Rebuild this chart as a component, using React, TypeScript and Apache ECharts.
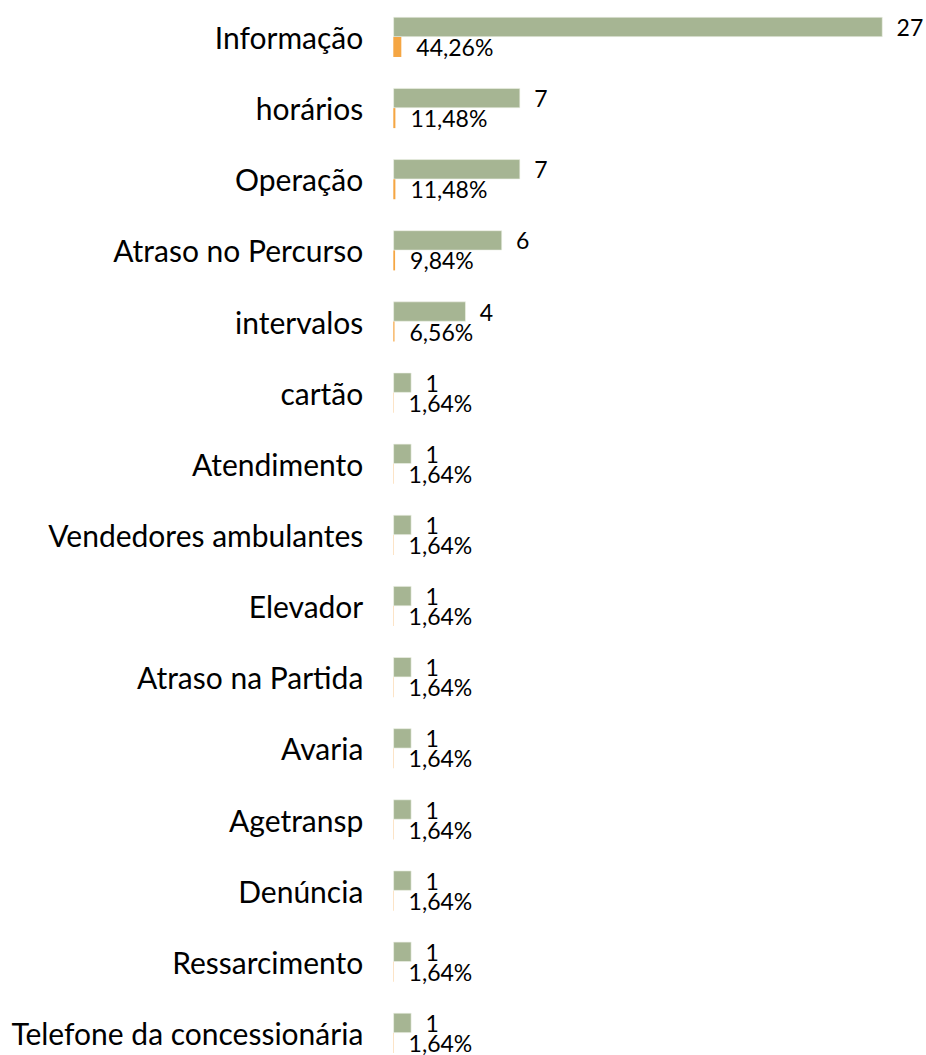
import React, { useEffect, useRef } from "react";
import * as echarts from "echarts";

const categories = [
  "Informação",
  "horários",
  "Operação",
  "Atraso no Percurso",
  "intervalos",
  "cartão",
  "Atendimento",
  "Vendedores ambulantes",
  "Elevador",
  "Atraso na Partida",
  "Avaria",
  "Agetransp",
  "Denúncia",
  "Ressarcimento",
  "Telefone da concessionária",
];

const counts = [27, 7, 7, 6, 4, 1, 1, 1, 1, 1, 1, 1, 1, 1, 1];

const shares = [
  0.4426, 0.1148, 0.1148, 0.0984, 0.0656, 0.0164, 0.0164, 0.0164, 0.0164,
  0.0164, 0.0164, 0.0164, 0.0164, 0.0164, 0.0164,
];

const FONT = "Lato, 'Noto Sans', sans-serif";

export default function App() {
  const ref = useRef<HTMLDivElement>(null);

  useEffect(() => {
    document.body.style.margin = "0";
    if (!ref.current) return;
    const chart = echarts.init(ref.current, null, { renderer: "svg" });
    chart.setOption({
      animation: false,
      backgroundColor: "#ffffff",
      grid: {
        left: 393.3,
        top: 1.4,
        width: 525.5,
        height: 1067.1,
        containLabel: false,
        outerBoundsMode: "none",
      },
      xAxis: {
        type: "value",
        min: 0,
        max: 29,
        show: false,
        splitLine: { show: false },
      },
      yAxis: {
        type: "category",
        data: categories,
        inverse: true,
        axisLine: { show: false },
        axisTick: { show: false },
        axisLabel: {
          color: "#000000",
          fontSize: 30,
          fontFamily: FONT,
          margin: 30,
        },
      },
      series: [
        {
          name: "Quantidade",
          type: "bar",
          data: counts,
          barWidth: 20,
          barGap: "0%",
          itemStyle: { color: "#A6B593", borderColor: "#eef1e8", borderWidth: 0.6 },
          label: {
            show: true,
            position: "right",
            distance: 14,
            color: "#000000",
            fontSize: 23,
            fontFamily: FONT,
            formatter: (p: any) => String(p.value),
          },
        },
        {
          name: "Percentual",
          type: "bar",
          data: shares,
          barWidth: 20,
          itemStyle: { color: "#F5A643" },
          label: {
            show: true,
            position: "right",
            distance: 15,
            color: "#000000",
            fontSize: 23,
            fontFamily: FONT,
            formatter: (p: any) => (p.value * 100).toFixed(2).replace(".", ",") + "%",
          },
        },
      ],
    });
    return () => chart.dispose();
  }, []);

  return <div ref={ref} style={{ width: 926, height: 1055 }} />;
}
